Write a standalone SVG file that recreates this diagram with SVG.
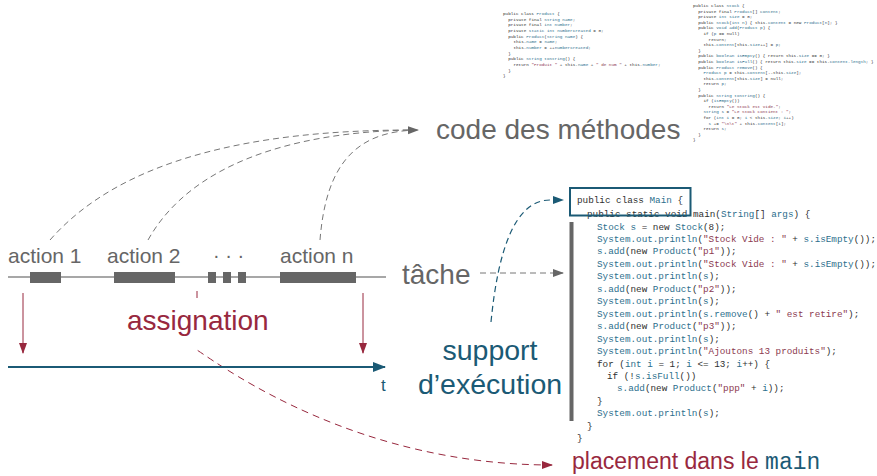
<svg xmlns="http://www.w3.org/2000/svg" width="877" height="476" viewBox="0 0 877 476">
  <style>
    .lbl { font-family: "Liberation Sans", Arial, sans-serif; }
    .gray { fill: #666666; }
    .teal { fill: #1b5a75; }
    .maroon { fill: #98283e; }
    .code { font-family: "Liberation Mono", "DejaVu Sans Mono", monospace; fill: #303030; }
    .big { font-size: 9.3px; }
    .tiny { font-size: 4.3px; }
    .v { fill: #2d6f8d; }
    .s { fill: #8c3a50; }
    .kw-main { font-family: "Liberation Mono", "DejaVu Sans Mono", monospace; fill: #1b5a75; }
    .dash-gray { fill: none; stroke: #777777; stroke-width: 1; stroke-dasharray: 6 4; }
    .dash-teal { fill: none; stroke: #1b5a75; stroke-width: 1.2; stroke-dasharray: 6 4; }
    .dash-maroon { fill: none; stroke: #98283e; stroke-width: 1; stroke-dasharray: 7 5; }
  </style>
  <defs>
    <marker id="arrow-gray" markerUnits="userSpaceOnUse" markerWidth="12" markerHeight="10" refX="10" refY="4" orient="auto">
      <path d="M0,0 L11,4 L0,8 z" fill="#666666"/>
    </marker>
    <marker id="arrow-teal" markerUnits="userSpaceOnUse" markerWidth="12" markerHeight="10" refX="10" refY="4" orient="auto">
      <path d="M0,0 L11,4 L0,8 z" fill="#1b5a75"/>
    </marker>
    <marker id="arrow-teal-big" markerUnits="userSpaceOnUse" markerWidth="14" markerHeight="12" refX="12" refY="5" orient="auto">
      <path d="M0,0 L13,5 L0,10 z" fill="#1b5a75"/>
    </marker>
    <marker id="arrow-maroon" markerUnits="userSpaceOnUse" markerWidth="12" markerHeight="10" refX="10" refY="4" orient="auto">
      <path d="M0,0 L11,4 L0,8 z" fill="#98283e"/>
    </marker>
  </defs>

  <rect width="877" height="476" fill="#ffffff"/>

  <!-- connectors -->
  <g id="connectors">
    <!-- actions to method code -->
    <path class="dash-gray" d="M50,240 C120,160 250,130 412,130"/>
    <path class="dash-gray" d="M148,240 C190,165 290,132 412,130"/>
    <path class="dash-gray" d="M320,240 C326,165 355,131 418,130" marker-end="url(#arrow-gray)"/>
    <!-- task to main body -->
    <path class="dash-gray" d="M480,273 L563,273" marker-end="url(#arrow-gray)"/>
    <!-- runtime support to class Main -->
    <path class="dash-teal" d="M491,322 C498,250 515,200 550,200 L563,200" marker-end="url(#arrow-teal)"/>
    <!-- assignment down to the timeline -->
    <path d="M23,293 L23,353" stroke="#98283e" stroke-width="1" fill="none" marker-end="url(#arrow-maroon)"/>
    <path d="M363,293 L363,353" stroke="#98283e" stroke-width="1" fill="none" marker-end="url(#arrow-maroon)"/>
    <!-- assignment to placement in main -->
    <path class="dash-maroon" d="M197,291 L197,350 C230,372 360,465 552,465" marker-end="url(#arrow-maroon)"/>
  </g>

  <!-- task timeline -->
  <g id="timeline">
    <line x1="8" y1="277" x2="386" y2="277" stroke="#8a8a8a" stroke-width="1.3"/>
    <rect x="30" y="272" width="31" height="11" fill="#666666"/>
    <rect x="114" y="272" width="61" height="11" fill="#666666"/>
    <rect x="208" y="272" width="8" height="11" fill="#666666"/>
    <rect x="223" y="272" width="8" height="11" fill="#666666"/>
    <rect x="238" y="272" width="8" height="11" fill="#666666"/>
    <rect x="280" y="272" width="76" height="11" fill="#666666"/>
  </g>

  <g id="action1"><text class="lbl gray" x="8" y="263" font-size="21">action 1</text></g>
  <g id="action2"><text class="lbl gray" x="107" y="263" font-size="21">action 2</text></g>
  <g id="dots"><text class="lbl gray" x="213" y="262" font-size="20">· · ·</text></g>
  <g id="actionN"><text class="lbl gray" x="280" y="263" font-size="21">action n</text></g>

  <g id="tache"><text class="lbl gray" x="402" y="284" font-size="28">tâche</text></g>

  <g id="code-methodes"><text class="lbl gray" x="436" y="139" font-size="28">code des méthodes</text></g>

  <g id="assignation">
    <rect x="120" y="299" width="155" height="48" fill="#ffffff"/>
    <text class="lbl maroon" x="127" y="330" font-size="28">assignation</text>
  </g>

  <!-- time axis -->
  <g id="time-axis">
    <line x1="8" y1="367" x2="385" y2="367" stroke="#1b5a75" stroke-width="2" marker-end="url(#arrow-teal-big)"/>
    <text class="lbl teal" x="381" y="391" font-size="17">t</text>
  </g>

  <g id="support">
    <text class="lbl teal" x="490" y="360" font-size="28.5" text-anchor="middle">support</text>
    <text class="lbl teal" x="490" y="394" font-size="28.5" text-anchor="middle">d’exécution</text>
  </g>

  <g id="placement">
    <text class="lbl maroon" x="572" y="469" font-size="23">placement dans le <tspan class="kw-main">main</tspan></text>
  </g>

  <!-- class Product source -->
  <g id="product-code" class="code tiny">
    <text x="503" y="15">public class <tspan class="v">Product</tspan> {</text>
    <text x="508.2" y="20.6">private final <tspan class="v">String name</tspan>;</text>
    <text x="508.2" y="26.3">private final <tspan class="v">int number</tspan>;</text>
    <text x="508.2" y="31.9">private <tspan class="v">static int numberCreated</tspan> = 0;</text>
    <text x="508.2" y="37.6">public <tspan class="v">Product</tspan>(<tspan class="v">String name</tspan>) {</text>
    <text x="513.4" y="43.2">this.<tspan class="v">name</tspan> = <tspan class="v">name</tspan>;</text>
    <text x="513.4" y="48.9">this.<tspan class="v">number</tspan> = ++<tspan class="v">numberCreated</tspan>;</text>
    <text x="508.2" y="54.5">}</text>
    <text x="508.2" y="60.2">public <tspan class="v">String toString</tspan>() {</text>
    <text x="513.4" y="65.8">return <tspan class="s">"Produit "</tspan> + this.<tspan class="v">name</tspan> + <tspan class="s">" de num "</tspan> + this.<tspan class="v">number</tspan>;</text>
    <text x="508.2" y="71.5">}</text>
    <text x="503" y="77.1">}</text>
  </g>

  <!-- class Stock source -->
  <g id="stock-code" class="code tiny">
    <text x="693" y="7">public class <tspan class="v">Stock</tspan> {</text>
    <text x="698.2" y="12.6">private final <tspan class="v">Product</tspan>[] <tspan class="v">content</tspan>;</text>
    <text x="698.2" y="18.2">private <tspan class="v">int size</tspan> = 0;</text>
    <text x="698.2" y="23.8">public <tspan class="v">Stock</tspan>(<tspan class="v">int n</tspan>) { this.<tspan class="v">content</tspan> = new <tspan class="v">Product</tspan>[<tspan class="v">n</tspan>]; }</text>
    <text x="698.2" y="29.4">public <tspan class="v">void add</tspan>(<tspan class="v">Product p</tspan>) {</text>
    <text x="703.4" y="35">if (<tspan class="v">p</tspan> == null)</text>
    <text x="708.6" y="40.6">return;</text>
    <text x="703.4" y="46.2">this.<tspan class="v">content</tspan>[this.<tspan class="v">size</tspan>++] = <tspan class="v">p</tspan>;</text>
    <text x="698.2" y="51.8">}</text>
    <text x="698.2" y="57.4">public <tspan class="v">boolean isEmpty</tspan>() { return this.<tspan class="v">size</tspan> == 0; }</text>
    <text x="698.2" y="63">public <tspan class="v">boolean isFull</tspan>() { return this.<tspan class="v">size</tspan> == this.<tspan class="v">content.length</tspan>; }</text>
    <text x="698.2" y="68.6">public <tspan class="v">Product remove</tspan>() {</text>
    <text x="703.4" y="74.2"><tspan class="v">Product p</tspan> = this.<tspan class="v">content</tspan>[--this.<tspan class="v">size</tspan>];</text>
    <text x="703.4" y="79.8">this.<tspan class="v">content</tspan>[this.<tspan class="v">size</tspan>] = null;</text>
    <text x="703.4" y="85.4">return <tspan class="v">p</tspan>;</text>
    <text x="698.2" y="91">}</text>
    <text x="698.2" y="96.6">public <tspan class="v">String toString</tspan>() {</text>
    <text x="703.4" y="102.2">if (<tspan class="v">isEmpty</tspan>())</text>
    <text x="708.6" y="107.8">return <tspan class="s">"Le Stock est vide."</tspan>;</text>
    <text x="703.4" y="113.4"><tspan class="v">String s</tspan> = <tspan class="s">"Le Stock contient : "</tspan>;</text>
    <text x="703.4" y="119">for (<tspan class="v">int i</tspan> = 0; <tspan class="v">i</tspan> &lt; this.<tspan class="v">size</tspan>; <tspan class="v">i</tspan>++)</text>
    <text x="708.6" y="124.6"><tspan class="v">s</tspan> += <tspan class="s">"\n\t"</tspan> + this.<tspan class="v">content</tspan>[<tspan class="v">i</tspan>];</text>
    <text x="703.4" y="130.2">return <tspan class="v">s</tspan>;</text>
    <text x="698.2" y="135.8">}</text>
    <text x="693" y="141.4">}</text>
  </g>

  <!-- class Main source -->
  <g id="main-code" class="code big">
    <rect x="569.5" y="222" width="4" height="199" fill="#666666"/>
    <text x="577" y="203">public class <tspan class="v">Main</tspan> {</text>
    <text x="587" y="217">public static void main(<tspan class="v">String</tspan>[] <tspan class="v">args</tspan>) {</text>
    <text x="597" y="229.5"><tspan class="v">Stock s</tspan> = new <tspan class="v">Stock</tspan>(8);</text>
    <text x="597" y="242"><tspan class="v">System.out.println</tspan>(<tspan class="s">"Stock Vide : "</tspan> + <tspan class="v">s.isEmpty</tspan>());</text>
    <text x="597" y="254.4"><tspan class="v">s.add</tspan>(new <tspan class="v">Product</tspan>(<tspan class="s">"p1"</tspan>));</text>
    <text x="597" y="266.9"><tspan class="v">System.out.println</tspan>(<tspan class="s">"Stock Vide : "</tspan> + <tspan class="v">s.isEmpty</tspan>());</text>
    <text x="597" y="279.3"><tspan class="v">System.out.println</tspan>(<tspan class="v">s</tspan>);</text>
    <text x="597" y="291.8"><tspan class="v">s.add</tspan>(new <tspan class="v">Product</tspan>(<tspan class="s">"p2"</tspan>));</text>
    <text x="597" y="304.2"><tspan class="v">System.out.println</tspan>(<tspan class="v">s</tspan>);</text>
    <text x="597" y="316.7"><tspan class="v">System.out.println</tspan>(<tspan class="v">s.remove</tspan>() + <tspan class="s">" est retire"</tspan>);</text>
    <text x="597" y="329.1"><tspan class="v">s.add</tspan>(new <tspan class="v">Product</tspan>(<tspan class="s">"p3"</tspan>));</text>
    <text x="597" y="341.6"><tspan class="v">System.out.println</tspan>(<tspan class="v">s</tspan>);</text>
    <text x="597" y="354"><tspan class="v">System.out.println</tspan>(<tspan class="s">"Ajoutons 13 produits"</tspan>);</text>
    <text x="597" y="366.5">for (<tspan class="v">int i</tspan> = 1; <tspan class="v">i</tspan> &lt;= 13; <tspan class="v">i</tspan>++) {</text>
    <text x="607" y="378.9">if (!<tspan class="v">s.isFull</tspan>())</text>
    <text x="617" y="391.4"><tspan class="v">s.add</tspan>(new <tspan class="v">Product</tspan>(<tspan class="s">"ppp"</tspan> + <tspan class="v">i</tspan>));</text>
    <text x="597" y="403.8">}</text>
    <text x="597" y="416.3"><tspan class="v">System.out.println</tspan>(<tspan class="v">s</tspan>);</text>
    <text x="587" y="428.7">}</text>
    <text x="577" y="441.2">}</text>
    <rect x="570" y="188" width="120.5" height="27.5" fill="none" stroke="#1b5a75" stroke-width="2"/>
  </g>
</svg>
